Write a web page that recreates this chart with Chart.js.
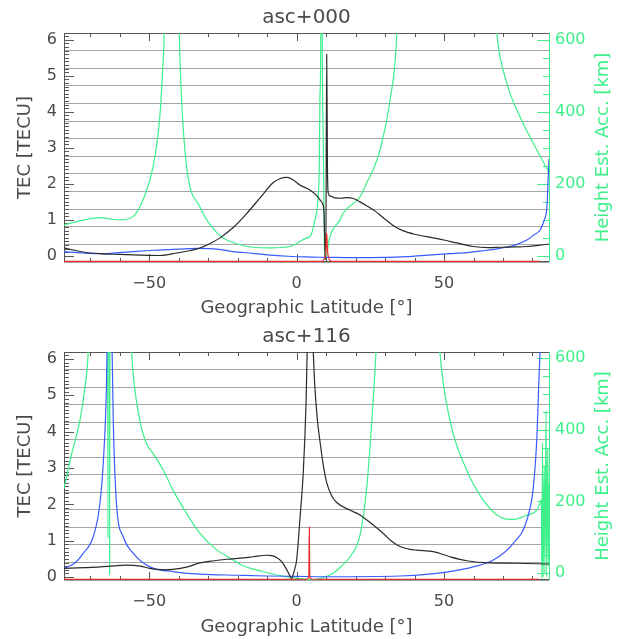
<!DOCTYPE html>
<html>
<head>
<meta charset="utf-8">
<title>TEC asc+000 / asc+116</title>
<script src="https://cdn.jsdelivr.net/npm/chart.js@4"></script>
<style>
  body { margin: 0; background: #fff; }
  .panel { position: relative; width: 626px; }
</style>
</head>
<body>
<div class="panel" style="height:320px"><canvas id="chartTop"></canvas></div>
<div class="panel" style="height:319px"><canvas id="chartBottom"></canvas></div>
<script>
// tick labels
const latTicks = [-50, 0, 50];
const tecTicks = [0, 1, 2, 3, 4, 5, 6];
const heightTicks = [0, 200, 400, 600];

// ---- asc+000 ----
const topLatTec = [-78.9, -75, -72, -66.7, -60, -53, -46.4, -40.6, -36, -32.8, -29, -26.0, -21.6, -16.8, -12.4, -8.0, -5.5, -3.3, -1, 1.1, 4.5, 6.5, 8.0, 8.8, 9.3, 9.6, 9.9, 10.2, 10.45, 10.7, 11.5, 13, 15, 17, 19, 21.5, 24, 26.5, 28.5, 30.6, 33, 36, 40, 46.3, 50, 54.3, 59.8, 65, 69, 74, 78.1, 82, 85.6];
const topTec = [0.22, 0.15, 0.1, 0.06, 0.04, 0.02, 0.01, 0.08, 0.15, 0.22, 0.36, 0.5, 0.78, 1.19, 1.61, 2.03, 2.15, 2.18, 2.1, 1.97, 1.83, 1.7, 1.55, 1.45, 1.2, 0.2, -0.1, 5.6, 2.5, 1.75, 1.66, 1.61, 1.6, 1.62, 1.6, 1.5, 1.38, 1.25, 1.12, 0.98, 0.83, 0.7, 0.6, 0.5, 0.44, 0.36, 0.26, 0.23, 0.24, 0.25, 0.26, 0.29, 0.33];

const topLatBlue = [-78.9, -72.5, -66.7, -59, -50, -40, -32.8, -27, -21.6, -15, -10, -3, 3, 10, 20, 30, 37, 46, 52, 57.7, 63, 69, 74, 78.1, 80.5, 82.6, 84, 84.9, 85.4, 85.6];
const topBlue = [0.12, 0.08, 0.06, 0.1, 0.15, 0.19, 0.21, 0.19, 0.12, 0.07, 0.03, -0.01, -0.03, -0.04, -0.05, -0.04, -0.02, 0.03, 0.06, 0.09, 0.14, 0.21, 0.3, 0.44, 0.58, 0.72, 1.0, 1.37, 2.3, 2.7];

const topLatRed = [-78.9, 8.5, 9.3, 9.8, 10.0, 10.2, 10.4, 10.6, 11.1, 12, 82.2];
const topRed = [-0.15, -0.15, -0.1, 0.05, 0.3, 0.64, 0.3, 0.05, -0.1, -0.15, -0.15];

const topLatHeight = [-78.9, -72, -66.7, -62, -59.9, -55.5, -52.1, -48.7, -46.4, -45.4, -44.9, -44.4, -42.3, -40.3, -39.8, -39.0, -37.3, -32.8, -27.0, -19.2, -9.0, -2.3, 3.5, 4.6, 6.2, 7.3, 7.7, 7.9, 8.2, 8.45, 8.7, 9.0, 9.4, 9.7, 11.3, 14.7, 15.8, 21.5, 23.8, 25.9, 28.3, 31.7, 34.0, 35.0, 40, 51, 60, 65, 66.5, 67.9, 71.3, 75.8, 80.2, 85.6];
const topHeight = [86, 100, 106, 101, 100, 109, 156, 247, 386, 525, 620, 900, 2500, 900, 620, 433, 247, 136, 64, 31, 22, 26, 50, 54, 100, 165, 257, 442, 628, 3000, 620, 350, 35, -11, 54, 100, 119, 164, 203, 238, 294, 433, 620, 900, 2500, 5000, 3000, 1100, 800, 620, 480, 386, 314, 231];

// ---- asc+116 ----
const botLatTec = [-78.9, -72, -66.7, -62, -57.7, -53, -49.8, -45, -42.0, -37, -32.8, -28, -23.7, -18, -14.7, -10.2, -8.5, -6.8, -5, -3.9, -2.8, -1.7, -0.9, 0.0, 1.1, 2.3, 3.2, 3.6, 4.5, 5.6, 6.0, 6.6, 7.2, 7.9, 9, 10.2, 11.8, 13.6, 18.1, 21.5, 23.8, 29.4, 32, 35.1, 38, 40.7, 46.4, 52.0, 57.7, 65.6, 74.7, 85.7];
const botTec = [0.24, 0.26, 0.28, 0.31, 0.33, 0.3, 0.24, 0.2, 0.21, 0.28, 0.39, 0.45, 0.49, 0.53, 0.56, 0.6, 0.59, 0.54, 0.42, 0.28, 0.12, -0.04, 0.15, 0.47, 1.57, 2.95, 4.8, 6.3, 9, 6.3, 5.5, 4.75, 4.2, 3.75, 3.1, 2.6, 2.25, 2.05, 1.84, 1.71, 1.57, 1.2, 1.0, 0.84, 0.77, 0.74, 0.7, 0.56, 0.45, 0.39, 0.38, 0.36];

const botLatBlue = [-78.9, -75, -72.4, -69.0, -66.7, -65.4, -64.5, -64.3, -63.5, -62.6, -62.2, -61.1, -58.8, -55.4, -49.8, -42.0, -32.8, -20, -10.2, 0, 10, 35, 45, 52, 59.9, 66.7, 73.5, 78.1, 80.3, 81.5, 82.1, 82.6, 84, 85.7];
const botBlue = [0.24, 0.4, 0.65, 1.11, 2.03, 3.4, 5.24, 6.3, 12, 6.3, 4.32, 2.03, 1.11, 0.65, 0.28, 0.15, 0.08, 0.05, 0.03, 0.02, 0.01, 0.03, 0.08, 0.15, 0.28, 0.47, 0.93, 1.57, 2.48, 3.86, 5.24, 6.3, 10, 15];

const botLatRed = [-78.9, 3.5, 3.9, 4.15, 4.3, 4.45, 4.7, 5.2, 82.2];
const botRed = [-0.06, -0.06, -0.03, 0.05, 1.38, 0.05, -0.03, -0.06, -0.06];

const botLatHeight = [-78.9, -76.3, -73.5, -71.8, -70.7, -70.0, -67, -64.3, -64.0, -63.7, -63.5, -63.4, -63.2, -61, -57.5, -56.0, -53.2, -50.9, -48.6, -45.2, -41.9, -37.3, -32.8, -27.1, -21.5, -19.2, -15.8, -10.2, -5, -2.3, 2, 5.7, 9, 12.4, 15, 18.1, 21.5, 23.8, 25.5, 26.9, 27.5, 28.5, 33, 40, 45.5, 47, 48, 48.6, 52.0, 57.7, 63.3, 69.0, 73.5, 78.1, 81.5, 82.6, 83.0, 83.2, 83.4, 83.6, 84.0, 84.2, 84.6, 84.8, 85.2, 85.4, 85.7];
const botHeight = [236, 333, 426, 519, 616, 800, 2000, 2000, 97, 2000, 2000, -5, 2000, 2000, 900, 616, 426, 361, 333, 287, 231, 167, 111, 65, 37, 25, 14, 2, -8, -11, -16, -18, -12, 0, 18, 46, 106, 240, 426, 616, 750, 1000, 3000, 4000, 1100, 850, 700, 616, 426, 287, 204, 157, 150, 162, 176, 196, 205, -15, 365, -10, 300, 0, 453, -10, 350, 20, 250];

const GREEN = '#3ef08c';
const TEXT = '#4a4a4a';
const FONT = "'DejaVu Sans', sans-serif";

function pts(lat, val) {
    return lat.map((x, i) => ({ x: x, y: val[i] }));
}

// IDL-like frame and tick marks, plus the right axis title
const idlAxes = {
    id: 'idlAxes',
    beforeDatasetsDraw(chart) {
        const { ctx, chartArea: a, scales } = chart;
        ctx.save();
        ctx.lineWidth = 1;
        ctx.strokeStyle = '#555';
        ctx.beginPath();
        ctx.moveTo(a.left + 0.5, a.bottom);
        ctx.lineTo(a.left + 0.5, a.top + 0.5);
        ctx.lineTo(a.right, a.top + 0.5);
        ctx.moveTo(a.left, a.bottom - 0.5);
        ctx.lineTo(a.right, a.bottom - 0.5);
        for (let v = -70; v <= 80; v += 10) {
            const px = Math.round(scales.x.getPixelForValue(v)) + 0.5;
            const len = v % 50 === 0 ? 8 : 4;
            ctx.moveTo(px, a.bottom);
            ctx.lineTo(px, a.bottom - len);
            ctx.moveTo(px, a.top);
            ctx.lineTo(px, a.top + len);
        }
        for (let i = 0; i <= 62; i++) {
            const py = Math.round(scales.y.getPixelForValue(i / 10)) + 0.5;
            const len = i % 10 === 0 ? 10 : 5;
            ctx.moveTo(a.left, py);
            ctx.lineTo(a.left + len, py);
        }
        ctx.stroke();

        ctx.strokeStyle = GREEN;
        ctx.beginPath();
        ctx.moveTo(a.right + 0.5, a.top);
        ctx.lineTo(a.right + 0.5, a.bottom);
        for (let v = 0; v <= 600; v += 50) {
            const py = Math.round(scales.y2.getPixelForValue(v)) + 0.5;
            const len = v % 200 === 0 ? 12 : 6;
            ctx.moveTo(a.right, py);
            ctx.lineTo(a.right - len, py);
        }
        ctx.stroke();
        ctx.restore();
    },
    afterDraw(chart) {
        const { ctx, chartArea: a } = chart;
        ctx.save();
        ctx.fillStyle = GREEN;
        ctx.font = "18px " + FONT;
        ctx.textAlign = 'center';
        ctx.textBaseline = 'middle';
        ctx.translate(603, (a.top + a.bottom) / 2);
        ctx.rotate(-Math.PI / 2);
        ctx.fillText('Height Est. Acc. [km]', 0, 0);
        ctx.restore();
    }
};

function makeChart(id, title, series, yRange, y2Range, titlePad, xHeight) {
    const ctx = document.getElementById(id).getContext('2d');
    const line = (data, color, axis) => ({
        data: data,
        borderColor: color,
        borderWidth: 1.2,
        pointRadius: 0,
        cubicInterpolationMode: 'monotone',
        yAxisID: axis,
        clip: 0
    });
    return new Chart(ctx, {
        type: 'line',
        data: {
            datasets: [
                line(series.red, '#ee2a2a', 'y'),
                line(series.tec, '#2a2a2a', 'y'),
                line(series.blue, '#3a5cff', 'y'),
                line(series.height, GREEN, 'y2')
            ]
        },
        options: {
            responsive: true,
            maintainAspectRatio: false,
            animation: false,
            events: [],
            layout: { padding: 0 },
            plugins: {
                legend: { display: false },
                tooltip: { enabled: false },
                title: {
                    display: true,
                    text: title,
                    fullSize: false,
                    color: TEXT,
                    font: { family: FONT, size: 20, weight: 'normal' },
                    padding: titlePad
                }
            },
            scales: {
                x: {
                    type: 'linear',
                    min: -78.9,
                    max: 85.6,
                    grid: { display: false, drawTicks: false },
                    border: { display: false },
                    afterBuildTicks: s => { s.ticks = latTicks.map(v => ({ value: v })); },
                    afterFit: s => { s.height = xHeight; },
                    ticks: {
                        padding: 12,
                        color: TEXT,
                        font: { family: FONT, size: 16 },
                        callback: v => String(v).replace('-', '\u2212')
                    },
                    title: {
                        display: true,
                        text: 'Geographic Latitude [°]',
                        color: TEXT,
                        font: { family: FONT, size: 18 },
                        padding: { top: 0, bottom: 1 }
                    }
                },
                yg: {
                    type: 'linear',
                    position: 'left',
                    min: 0,
                    max: 13,
                    ticks: { display: false, stepSize: 1 },
                    grid: { color: '#a4a4a4', lineWidth: 1, drawTicks: false },
                    border: { display: false },
                    afterFit: s => { s.width = 0; }
                },
                y: {
                    type: 'linear',
                    position: 'left',
                    min: yRange[0],
                    max: yRange[1],
                    grid: { display: false, drawTicks: false },
                    border: { display: false },
                    afterBuildTicks: s => { s.ticks = tecTicks.map(v => ({ value: v })); },
                    afterFit: s => { s.width = 64; },
                    ticks: { padding: 7, color: TEXT, font: { family: FONT, size: 16 } },
                    title: {
                        display: true,
                        text: 'TEC [TECU]',
                        color: TEXT,
                        font: { family: FONT, size: 18 },
                        padding: { top: 15, bottom: 0 }
                    }
                },
                y2: {
                    type: 'linear',
                    position: 'right',
                    min: y2Range[0],
                    max: y2Range[1],
                    grid: { display: false, drawTicks: false },
                    border: { display: false },
                    afterBuildTicks: s => { s.ticks = heightTicks.map(v => ({ value: v })); },
                    afterFit: s => { s.width = 77; },
                    ticks: { padding: 6, color: GREEN, font: { family: FONT, size: 16 } }
                }
            }
        },
        plugins: [idlAxes]
    });
}

makeChart('chartTop', 'asc+000', {
    tec: pts(topLatTec, topTec),
    blue: pts(topLatBlue, topBlue),
    red: pts(topLatRed, topRed),
    height: pts(topLatHeight, topHeight)
}, [-0.17, 6.19], [-17, 619], { top: 6, bottom: 3 }, 58);

makeChart('chartBottom', 'asc+116', {
    tec: pts(botLatTec, botTec),
    blue: pts(botLatBlue, botBlue),
    red: pts(botLatRed, botRed),
    height: pts(botLatHeight, botHeight)
}, [-0.08, 6.19], [-19, 617], { top: 5, bottom: 3 }, 59);
</script>
</body>
</html>
